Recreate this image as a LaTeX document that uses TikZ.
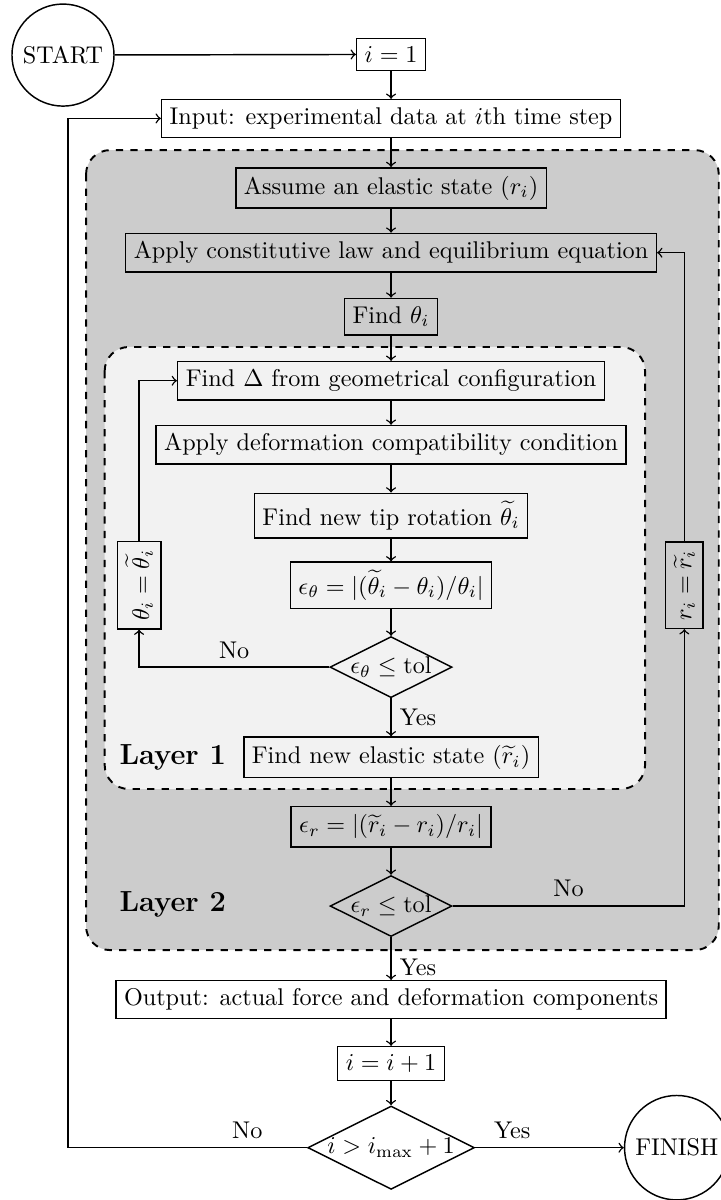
\documentclass[tikz,border=0pt]{standalone}
\usetikzlibrary{shapes.geometric}

\begin{document}
\begin{tikzpicture}[semithick, >=to]

      \useasboundingbox (0,0) rectangle (10.47,-17.43);

      \begin{scope}[dashed, thick, rounded corners=0.35cm]
        \draw[fill=gray!40] (1.25,-2.18) rectangle (10.44,-13.80);
        \draw[fill=black!5] (1.52,-5.04) rectangle (9.37,-11.46);
      \end{scope}

      \begin{scope}[every node/.style={font=\large\bfseries}]
        \node (l1) at (2.51,-11.00) {Layer 1};
        \node (l2) at (2.51,-13.14) {Layer 2};
      \end{scope}

      \begin{scope}[every node/.style={circle,draw,fill=white}]
        \node (0)  at (0.915,-0.80) {START};
        \node (19) at (9.83,-16.67) {FINISH};
      \end{scope}

      \begin{scope}[every node/.style={rectangle,draw}]
        \node[fill=white] (1)  at (5.68,-0.79)  {$i=1$};
        \node[fill=white] (2)  at (5.68,-1.72)  {Input: experimental data at $i$th time step};
        \node (3)  at (5.68,-2.73)  {Assume an elastic state $(r_i)$};
        \node (4)  at (5.68,-3.67)  {Apply constitutive law and equilibrium equation};
        \node (5)  at (5.68,-4.60)  {Find $\theta_i$};
        \node (6)  at (5.68,-5.53)  {Find $\Delta$ from geometrical configuration};
        \node (7)  at (5.68,-6.46)  {Apply deformation compatibility condition};
        \node (8)  at (5.68,-7.49)  {Find new tip rotation $\widetilde{\theta}_i$};
        \node (9)  at (5.68,-8.50)  {$\epsilon_\theta=|(\widetilde{\theta}_i-\theta_i)/\theta_i|$};
        \node (11) at (5.68,-11.00) {Find new elastic state $(\widetilde{r}_i)$};
        \node (12) at (5.68,-12.01) {$\epsilon_r=|(\widetilde{r}_i-r_i)/r_i|$};
        \node[fill=white] (14) at (5.68,-14.52) {Output: actual force and deformation components};
        \node[fill=white] (15) at (5.68,-15.45) {$i=i+1$};
        \node[rotate=90] (17) at (2.02,-8.50) {$\theta_i=\widetilde{\theta}_i$};
        \node[rotate=90] (18) at (9.94,-8.50) {$r_i=\widetilde{r}_i$};
      \end{scope}

      \begin{scope}[every node/.style={diamond,draw,aspect=2,inner sep=0pt}]
        \node (10) at (5.68,-9.69)  {$\epsilon_\theta\leq\mathrm{tol}$};
        \node (13) at (5.68,-13.16) {$\epsilon_r\leq\mathrm{tol}$};
        \node[fill=white] (16) at (5.68,-16.67) {$i>i_{\max}+1$};
      \end{scope}

      \coordinate (back) at (0.99,-16.67);

      \begin{scope}[every edge/.style={draw,->}]
        \path (0)  edge (1);
        \path (1)  edge (2);
        \path (2)  edge (3);
        \path (3)  edge (4);
        \path (4)  edge (5);
        \path (5)  edge (6);
        \path (6)  edge (7);
        \path (7)  edge (8);
        \path (8)  edge (9);
        \path (9)  edge (10);
        \path (10) edge node[right] (y1) {Yes} (11);
        \path (11) edge (12);
        \path (12) edge (13);
        \path (13) edge node[right, pos=0.7] (y2) {Yes} (14);
        \path (14) edge (15);
        \path (15) edge (16);
        \path (16) edge node[above, pos=0.25] (y3) {Yes} (19);
      \end{scope}

      \draw[->] (10) -| node[above, pos=0.25] (n1) {No} (17);
      \draw[->] (17) |- (6);
      \draw[->] (13) -| node[above, pos=0.25] (n2) {No} (18);
      \draw[->] (18) |- (4);
      \draw[->] (16) -- node[above, pos=0.25] (n3) {No} (back) |- (2);

    \end{tikzpicture}
\end{document}
